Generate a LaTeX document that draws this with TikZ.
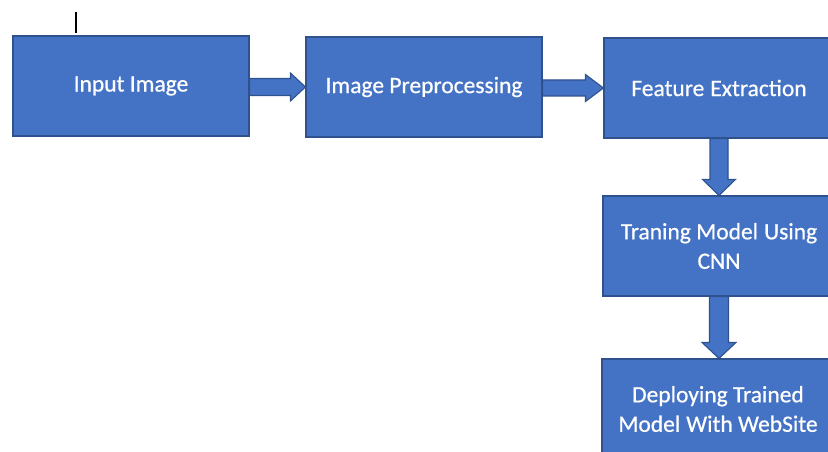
\documentclass[tikz,border=0pt]{standalone}
\usepackage{fontspec}
\setmainfont{Carlito}
\usetikzlibrary{calc}
\definecolor{boxfill}{HTML}{4472C4}
\definecolor{boxline}{HTML}{2F528F}
\tikzset{
  stepbox/.style={draw=boxline, line width=1.1pt, fill=boxfill, text=white,
    minimum height=100pt, inner sep=0pt, align=center,
    font=\fontsize{23.5}{29.5}\selectfont\addfontfeature{FakeBold=0.6}},
  blockarrow/.style={draw=boxline, line width=1.1pt, fill=boxfill, line join=miter}
}
\begin{document}
\begin{tikzpicture}[x=1pt,y=-1pt]
\useasboundingbox (0,0) rectangle (828,452);
\clip (0,0) rectangle (828,452);
\node[stepbox, minimum width=236pt] (b1) at (131,86) {Input Image};
\node[stepbox, minimum width=236pt] (b2) at (424,87) {Image Preprocessing};
\node[stepbox, minimum width=230pt] (b3) at (719,88) {Feature\hspace{6pt}Extraction};
\node[stepbox, minimum width=232pt] (b4) at (719,246) {Traning Model\hspace{6pt}Using\\CNN};
\node[stepbox, minimum width=232pt] (b5) at (718,409) {Deploying Trained\\Model\hspace{6pt}With WebSite};
% stray mark
\coordinate (m1) at (76,12);
\coordinate (m2) at (76,33);
\draw[line width=1.3pt, black] (m1) -- (m2);
% right arrows
\path[blockarrow]
  ($(b1.east|-b2.west)+(0,-8.5)$) -- ($(b2.west)+(-15,-8.5)$) -- ($(b2.west)+(-15,-14)$)
  -- (b2.west) -- ($(b2.west)+(-15,14)$) -- ($(b2.west)+(-15,8.5)$)
  -- ($(b1.east|-b2.west)+(0,8.5)$) -- cycle;
\path[blockarrow]
  ($(b2.east|-b3.west)+(0,-8)$) -- ($(b3.west)+(-18,-8)$) -- ($(b3.west)+(-18,-13.5)$)
  -- (b3.west) -- ($(b3.west)+(-18,13.5)$) -- ($(b3.west)+(-18,8)$)
  -- ($(b2.east|-b3.west)+(0,8)$) -- cycle;
% down arrows
\path[blockarrow]
  ($(b3.south)+(-9,0)$) -- ($(b4.north-|b3.south)+(-9,-16)$) -- ($(b4.north-|b3.south)+(-16.5,-16)$)
  -- (b4.north-|b3.south) -- ($(b4.north-|b3.south)+(16.5,-16)$) -- ($(b4.north-|b3.south)+(9,-16)$)
  -- ($(b3.south)+(9,0)$) -- cycle;
\path[blockarrow]
  ($(b4.south)+(-9.5,0)$) -- ($(b5.north-|b4.south)+(-9.5,-16)$) -- ($(b5.north-|b4.south)+(-17,-16)$)
  -- (b5.north-|b4.south) -- ($(b5.north-|b4.south)+(17,-16)$) -- ($(b5.north-|b4.south)+(9.5,-16)$)
  -- ($(b4.south)+(9.5,0)$) -- cycle;
\end{tikzpicture}
\end{document}
